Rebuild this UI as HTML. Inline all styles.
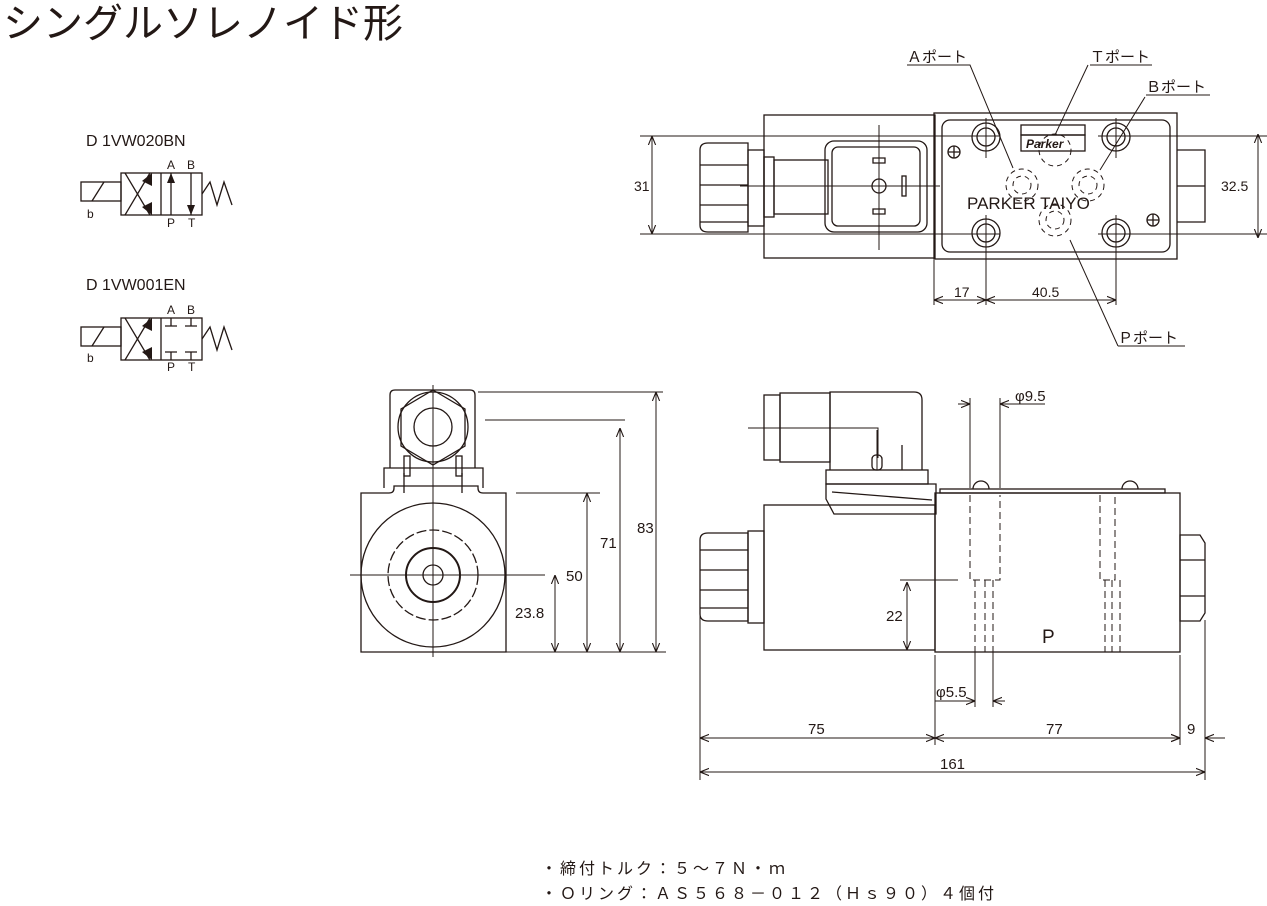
<!DOCTYPE html>
<html><head><meta charset="utf-8"><style>
html,body{margin:0;padding:0;background:#fff;}
svg{display:block;}
text{font-family:"Liberation Sans","Noto Sans CJK JP",sans-serif;fill:#231815;}
</style></head><body>
<svg width="1267" height="906" viewBox="0 0 1267 906" xmlns="http://www.w3.org/2000/svg">
<defs>
<marker id="ar" viewBox="0 0 10 10" refX="10" refY="5" markerWidth="9" markerHeight="9" orient="auto-start-reverse" markerUnits="userSpaceOnUse"><path d="M0,1 L10,5 L0,9" fill="none" stroke="#231815" stroke-width="1.2"/></marker>
<marker id="fa" viewBox="0 0 10 10" refX="10" refY="5" markerWidth="10" markerHeight="10" orient="auto-start-reverse" markerUnits="userSpaceOnUse"><path d="M0,1 L10,5 L0,9 z" fill="#231815"/></marker>
</defs>
<text x="3" y="37" font-size="40">シングルソレノイド形</text>

<!-- symbols -->
<text x="86" y="146" font-size="16">D 1VW020BN</text>
<text x="86" y="290" font-size="16">D 1VW001EN</text>
<g stroke="#231815" fill="none" stroke-width="1.3">
 <rect x="81" y="182" width="40" height="19"/><line x1="92" y1="201" x2="104" y2="182"/>
 <rect x="121" y="173" width="81" height="42"/><line x1="161" y1="173" x2="161" y2="215"/>
 <line x1="125" y1="173" x2="150" y2="215"/><line x1="125" y1="215" x2="150" y2="173"/>
 <line x1="171" y1="215" x2="171" y2="173" marker-end="url(#fa)"/>
 <line x1="191" y1="173" x2="191" y2="215" marker-end="url(#fa)"/>
 <polyline points="202,194 210,182 217,205 224,182 232,205"/>
 <rect x="81" y="327" width="40" height="19"/><line x1="92" y1="346" x2="104" y2="327"/>
 <rect x="121" y="318" width="81" height="42"/><line x1="161" y1="318" x2="161" y2="360"/>
 <line x1="125" y1="318" x2="150" y2="360"/><line x1="125" y1="360" x2="150" y2="318"/>
 <path d="M171,318 v8 M165,326 h12 M191,318 v8 M185,326 h12 M171,360 v-8 M165,352 h12 M191,360 v-8 M185,352 h12"/>
 <polyline points="202,339 210,327 217,350 224,327 232,350"/>
</g>
<polygon points="152,173 142,181 152,186" fill="#231815"/><polygon points="152,215 142,207 152,202" fill="#231815"/>
<polygon points="152,318 142,326 152,331" fill="#231815"/><polygon points="152,360 142,352 152,347" fill="#231815"/>
<g font-size="12"><text x="167" y="169">A</text><text x="187" y="169">B</text><text x="167" y="227">P</text><text x="188" y="227">T</text><text x="87" y="218">b</text>
<text x="167" y="314">A</text><text x="187" y="314">B</text><text x="167" y="371">P</text><text x="188" y="371">T</text><text x="87" y="362">b</text></g>

<!-- TOP VIEW -->
<g stroke="#231815" fill="none" stroke-width="1.3">
 <rect x="764" y="115" width="171" height="143"/>
 <rect x="934" y="113" width="243" height="146"/>
 <rect x="942" y="120" width="228" height="132" rx="8"/>
 <path d="M700,150 q0,-7 8,-7 h40 v89 h-40 q-8,0 -8,-7 z"/>
 <path d="M700,165 h48 M700,185 h48 M700,205 h48 M700,222 h48"/>
 <rect x="748" y="150" width="16" height="76"/>
 <rect x="764" y="157" width="10" height="60"/><rect x="774" y="160" width="54" height="54"/>
 <rect x="825" y="141" width="102" height="91" rx="9"/><rect x="832" y="147" width="88" height="79" rx="6"/>
 <circle cx="879" cy="186" r="7"/><rect x="902" y="176" width="4" height="20"/>
 <path d="M873,163 h12 v-5 h-12 z M873,209 h12 v5 h-12 z"/>
 <rect x="1021" y="125" width="64" height="10"/><rect x="1021" y="135" width="64" height="16"/>
 <circle cx="986" cy="137" r="14"/><circle cx="986" cy="137" r="9"/>
 <circle cx="1116" cy="137" r="14"/><circle cx="1116" cy="137" r="9"/>
 <circle cx="986" cy="233" r="14"/><circle cx="986" cy="233" r="9"/>
 <circle cx="1116" cy="233" r="14"/><circle cx="1116" cy="233" r="9"/>
 <circle cx="954" cy="152" r="6"/><circle cx="1153" cy="220" r="6"/>
 <path d="M948,152 h12 M954,146 v12 M1147,220 h12 M1153,214 v12"/>
 <g stroke-dasharray="5,4" stroke-width="1"><circle cx="1022" cy="185" r="16"/><circle cx="1022" cy="185" r="9"/>
 <circle cx="1088" cy="185" r="16"/><circle cx="1088" cy="185" r="9"/>
 <circle cx="1055" cy="150" r="16"/><circle cx="1055" cy="220" r="16"/><circle cx="1055" cy="220" r="9"/></g>
 <path d="M1177,150 h28 v72 h-28 M1177,186 h28"/>
 <g stroke-width="1"><path d="M640,136 h360 M1098,136 h170 M640,234 h360 M1098,234 h170 M740,186 h200" />
 <path d="M986,118 v40 M1116,118 v40 M986,215 v90 M1116,215 v90 M934,260 v45 M879,125 v125"/>
 <line x1="652" y1="136" x2="652" y2="234" marker-start="url(#ar)" marker-end="url(#ar)"/>
 <line x1="1258" y1="134" x2="1258" y2="238" marker-start="url(#ar)" marker-end="url(#ar)"/>
 <line x1="934" y1="300" x2="986" y2="300" marker-start="url(#ar)" marker-end="url(#ar)"/>
 <line x1="986" y1="300" x2="1116" y2="300" marker-start="url(#ar)" marker-end="url(#ar)"/>
 <path d="M907,65 h63 L1013,168 M1090,65 h62 M1088,65 L1055,135 M1146,95 h64 M1145,97 L1100,170 M1118,346 h67 M1118,346 L1070,240"/></g>
</g>
<text x="967" y="209" font-size="17">PARKER TAIYO</text>
<text x="1026" y="148" font-size="12" font-weight="bold" font-style="italic">Parker</text>
<g font-size="14"><text x="634" y="191">31</text><text x="1221" y="191">32.5</text>
<text x="954" y="297">17</text><text x="1032" y="297">40.5</text></g>
<g font-size="15"><text x="907" y="62">Ａポート</text><text x="1090" y="62">Ｔポート</text><text x="1146" y="92">Ｂポート</text><text x="1118" y="343">Ｐポート</text></g>

<!-- FRONT VIEW -->
<g stroke="#231815" fill="none" stroke-width="1.3">
 <path d="M361,493 h28 q5,0 5,-5 v-2 h84 v2 q0,5 5,5 h23 v159 h-145 z"/>
 <path d="M384,488 v-20 h99 v20 M404,493 v-20 M462,493 v-20"/>
 <path d="M390,468 v-73 q0,-5 5,-5 h75 q5,0 5,5 v73"/>
 <polygon points="433,390 465,409 465,446 433,465 401,446 401,409"/>
 <circle cx="433" cy="427" r="35"/><circle cx="433" cy="427" r="19"/>
 <rect x="404" y="456" width="6" height="20"/><rect x="456" y="456" width="6" height="20"/>
 <circle cx="433" cy="575" r="72"/>
 <circle cx="433" cy="575" r="45" stroke-dasharray="10,3"/>
 <circle cx="433" cy="575" r="27" stroke-width="2"/><circle cx="433" cy="575" r="10"/>
 <g stroke-width="1"><path d="M350,575 h195 M433,385 v272 M485,420 h140 M478,392 h185 M516,493 h84 M506,652 h160"/>
 <line x1="555" y1="575" x2="555" y2="652" marker-start="url(#ar)" marker-end="url(#ar)"/>
 <line x1="587" y1="493" x2="587" y2="652" marker-start="url(#ar)" marker-end="url(#ar)"/>
 <line x1="620" y1="428" x2="620" y2="652" marker-start="url(#ar)" marker-end="url(#ar)"/>
 <line x1="656" y1="392" x2="656" y2="652" marker-start="url(#ar)" marker-end="url(#ar)"/></g>
</g>
<g font-size="15"><text x="515" y="618">23.8</text><text x="566" y="581">50</text><text x="600" y="548">71</text><text x="637" y="533">83</text></g>

<!-- SIDE VIEW -->
<g stroke="#231815" fill="none" stroke-width="1.3">
 <rect x="935" y="493" width="245" height="159"/>
 <rect x="940" y="489" width="225" height="4"/>
 <path d="M973,489 a8,8 0 0 1 16,0 M1122,489 a8,8 0 0 1 16,0"/>
 <rect x="764" y="505" width="171" height="145"/>
 <path d="M700,540 q0,-7 8,-7 h40 v88 h-40 q-8,0 -8,-7 z M700,550 h48 M700,570 h48 M700,590 h48 M700,608 h48"/>
 <rect x="748" y="531" width="16" height="92"/>
 <rect x="764" y="395" width="16" height="65"/><rect x="780" y="393" width="50" height="69"/>
 <path d="M830,470 v-78 h84 q8,0 8,8 v70"/>
 <rect x="826" y="470" width="102" height="14"/>
 <path d="M826,484 h110 v30 h-102 l-8,-15 z M832,492 l100,8"/>
 <rect x="872" y="455" width="10" height="15" rx="4"/><line x1="877" y1="430" x2="877" y2="470" stroke-width="1"/>
 <line x1="902" y1="445" x2="902" y2="470"/>
 <path d="M1180,535 h20 l5,8 v70 l-5,8 h-20 z M1180,560 h25 M1180,596 h25"/>
 <g stroke-dasharray="7,4" stroke-width="1"><path d="M970,495 v85 h30 v-85 M975,580 v72 M985,580 v72 M993,580 v72
 M1100,495 v85 h15 v-85 M1105,580 v72 M1112,580 v72 M1120,580 v72"/></g>
 <g stroke-width="1"><path d="M748,428 h130 v30 M970,398 v90 M1000,398 v90 M900,580 h58 M880,650 h55 M975,652 v55 M993,652 v55 M935,655 v90 M700,540 v240 M1180,655 v90 M1205,620 v160"/>
 <line x1="958" y1="404" x2="970" y2="404" marker-end="url(#ar)"/><line x1="1012" y1="404" x2="1000" y2="404" marker-end="url(#ar)"/><line x1="1000" y1="404" x2="1045" y2="404"/>
 <line x1="907" y1="582" x2="907" y2="650" marker-start="url(#ar)" marker-end="url(#ar)"/>
 <line x1="935" y1="701" x2="975" y2="701" marker-end="url(#ar)"/><line x1="1005" y1="701" x2="993" y2="701" marker-end="url(#ar)"/>
 <line x1="700" y1="738" x2="935" y2="738" marker-start="url(#ar)" marker-end="url(#ar)"/>
 <line x1="935" y1="738" x2="1180" y2="738" marker-start="url(#ar)" marker-end="url(#ar)"/>
 <line x1="1165" y1="738" x2="1180" y2="738" marker-end="url(#ar)"/><line x1="1225" y1="738" x2="1205" y2="738" marker-end="url(#ar)"/>
 <line x1="700" y1="772" x2="1205" y2="772" marker-start="url(#ar)" marker-end="url(#ar)"/></g>
</g>
<text x="1042" y="643" font-size="19">P</text>
<g font-size="15"><text x="1015" y="401">φ9.5</text><text x="886" y="621">22</text><text x="936" y="697">φ5.5</text>
<text x="808" y="734">75</text><text x="1046" y="734">77</text><text x="1187" y="734">9</text><text x="940" y="769">161</text></g>

<g font-size="16" letter-spacing="3"><text x="541" y="874">・締付トルク：５～７Ｎ・ｍ</text><text x="541" y="899">・Ｏリング：ＡＳ５６８－０１２（Ｈｓ９０）４個付</text></g>
</svg>
</body></html>
